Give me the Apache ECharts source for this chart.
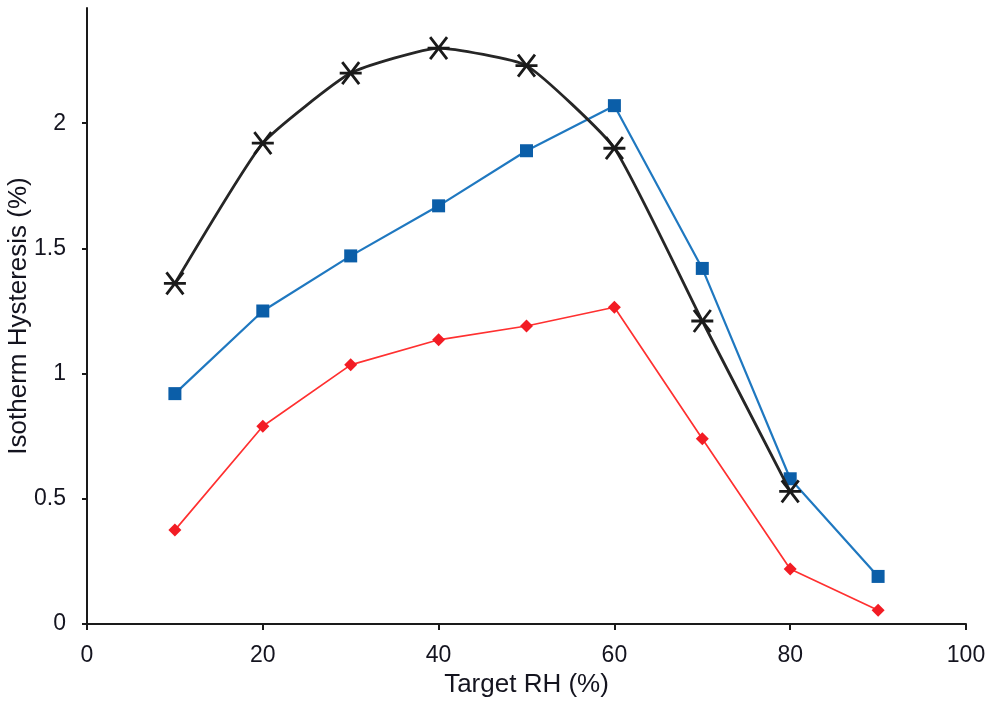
<!DOCTYPE html>
<html>
<head>
<meta charset="utf-8">
<script src="https://cdn.jsdelivr.net/npm/echarts@6/dist/echarts.min.js"></script>
<style>html,body{margin:0;padding:0;background:#fff}#c{width:997px;height:704px}</style>
</head>
<body>
<div id="c"></div>
<script>
var rhValues = [10, 20, 30, 40, 50, 60, 70, 80, 90];
var blackSeries = [1.36, 1.92, 2.20, 2.30, 2.23, 1.90, 1.21, 0.53];
var blueSeries = [0.92, 1.25, 1.47, 1.67, 1.89, 2.07, 1.42, 0.58, 0.19];
var redSeries = [0.375, 0.79, 1.035, 1.135, 1.19, 1.265, 0.74, 0.22, 0.055];
var yTicks = [0, 0.5, 1, 1.5, 2];
var xTicks = [0, 20, 40, 60, 80, 100];

function pairs(ys) { return ys.map(function (v, i) { return [rhValues[i], v]; }); }

var starPath = 'path://M0,0L10,10M0,10L10,0M-1.5,5L11.5,5';
var font = 'Liberation Sans, Arial, sans-serif';
var txt = '#14141f';
var chart = echarts.init(document.getElementById('c'));
chart.setOption({
  animation: false,
  backgroundColor: '#fff',
  grid: { left: 87, right: 31, top: 8, bottom: 80, containLabel: false, outerBoundsMode: 'none' },
  xAxis: {
    type: 'value', min: 0, max: 100, interval: 20,
    name: 'Target RH (%)', nameLocation: 'middle', nameGap: 48, nameMoveOverlap: false,
    nameTextStyle: { fontFamily: font, fontSize: 26, color: txt },
    axisLine: { show: true, onZero: false, lineStyle: { color: '#1a1a1a', width: 2 } },
    axisTick: { show: true, inside: false, length: 6, customValues: xTicks, lineStyle: { color: '#1a1a1a', width: 2 } },
    axisLabel: { fontFamily: font, fontSize: 23, color: txt, margin: 20, customValues: xTicks },
    splitLine: { show: false }
  },
  yAxis: {
    type: 'value', min: 0, max: 2.46,
    name: 'Isotherm Hysteresis (%)', nameLocation: 'middle', nameGap: 55, nameMoveOverlap: false,
    nameTextStyle: { fontFamily: font, fontSize: 26, color: txt },
    axisLine: { show: true, lineStyle: { color: '#1a1a1a', width: 2 } },
    axisTick: { show: true, length: 5, customValues: yTicks, lineStyle: { color: '#1a1a1a', width: 2 } },
    axisLabel: { fontFamily: font, fontSize: 23, color: txt, margin: 21, customValues: yTicks },
    splitLine: { show: false }
  },
  series: [
    {
      type: 'line', data: pairs(redSeries), symbol: 'diamond', symbolSize: 13,
      lineStyle: { color: '#ff3030', width: 1.7 },
      itemStyle: { color: '#f21c24' }, z: 2
    },
    {
      type: 'line', data: pairs(blueSeries), symbol: 'rect', symbolSize: 13,
      lineStyle: { color: '#1f78c0', width: 2.2 },
      itemStyle: { color: '#0b5ea8' }, z: 3
    },
    {
      type: 'line', data: pairs(blackSeries), symbol: starPath, symbolSize: 22, smooth: 0.15,
      lineStyle: { color: '#262626', width: 2.8 },
      itemStyle: { color: 'transparent', borderColor: '#1a1a1a', borderWidth: 2.8 }, z: 4
    }
  ]
});
</script>
</body>
</html>
